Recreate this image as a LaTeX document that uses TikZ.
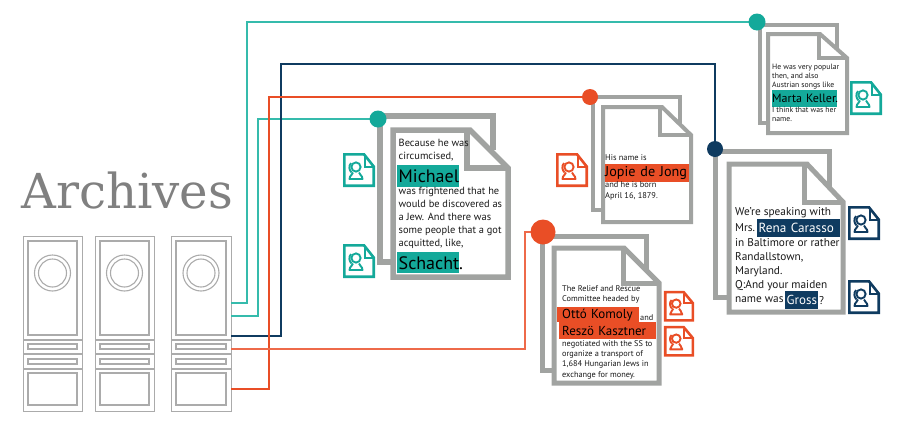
\documentclass[tikz,border=0pt]{standalone}
\usepackage{fontspec}
\setmainfont{PT Sans}
\newfontfamily\slabfont{DejaVu Serif}
\usetikzlibrary{positioning}

\definecolor{tealmain}{HTML}{14A99A}
\definecolor{teallite}{HTML}{35BBAC}
\definecolor{orangemain}{HTML}{E94E26}
\definecolor{orangelite}{HTML}{EE6A4A}
\definecolor{navymain}{HTML}{0F3B60}
\definecolor{sheetgray}{HTML}{A1A3A1}
\definecolor{cabgray}{HTML}{ABABAB}

\newcommand{\txtsize}[2]{\fontsize{#1}{#2}\selectfont}

\tikzset{
  pics/srcdoc/.style={code={
    \draw[line width=2.6pt, draw=#1, fill=white, line join=miter]
      (1.3,1.3) -- (21,1.3) -- (30.7,13.5) -- (30.7,32.7) -- (1.3,32.7) -- cycle;
    \draw[line width=2pt, draw=#1, line join=miter] (21.5,3) -- (21.5,13.5) -- (29.5,13.5);
    % person glyph
    \draw[line width=1.9pt, draw=#1] (13,14) circle (4.6);
    \draw[line width=1.9pt, draw=#1] (8,10) .. controls (5.5,13) and (6,17) .. (8.5,19.5);
    \draw[line width=1.9pt, draw=#1, line join=round]
      (10,19.5) .. controls (10,22) and (6.5,22) .. (6.5,26)
      -- (19.5,26) .. controls (19.5,22) and (16,22) .. (16,19.5);
  }}
}

\begin{document}
\begin{tikzpicture}[
  x=1pt, y=-1pt,
  cabline/.style={draw=cabgray, line width=1.1pt},
  link/.style={line width=1.4pt},
  sheet/.style={draw=sheetgray, line width=#1, line join=miter},
  hub/.style={circle, inner sep=0pt, minimum size=#1},
  bodytext/.style={inner sep=0pt, anchor=north west, align=left, text=black!90},
  namebox/.style={inner xsep=1.5pt, inner ysep=0pt, anchor=north west, align=left},
]
\useasboundingbox (0,0) rectangle (900,429);

\node[inner sep=0pt, anchor=base west, text=black!50] (title) at (21,208)
  {\slabfont\txtsize{48.2}{50}Archives};

% cabinets
\foreach \i/\cx/\cw in {1/23/59, 2/95/59, 3/171/60} {
  \node[cabline, rectangle, inner sep=0pt, anchor=north west,
        minimum width=\cw, minimum height=175] (cab\i) at (\cx,236) {};
  \draw[cabline] (\cx+5,241) rectangle (\cx+\cw-5,335);
  \draw[cabline] (\cx,340) -- ++(\cw,0) (\cx,354) -- ++(\cw,0) (\cx,369) -- ++(\cw,0);
  \draw[cabline] (\cx+5,344) rectangle (\cx+\cw-5,349);
  \draw[cabline] (\cx+5,359) rectangle (\cx+\cw-5,364);
  \draw[cabline] (\cx+5,373) rectangle (\cx+\cw-5,405);
  \draw[cabline] (\cx+\cw/2,273) circle (18) circle (14);
}

% hubs, drawn again at the end on top of the sheets
\coordinate (hubE) at (757,22);
\coordinate (hubA) at (378,119);
\coordinate (hubD) at (715,149);
\coordinate (hubC) at (543,232);
\coordinate (hubB) at (590,97);

\coordinate (portE) at (231,303);
\coordinate (portA) at (231,316);
\coordinate (portD) at (231,336);
\coordinate (portC) at (231,349);
\coordinate (portB) at (231,389);
\coordinate (laneE) at (247,22);
\coordinate (laneA) at (258,119);
\coordinate (laneD) at (281,64);
\coordinate (laneC) at (525,232);
\coordinate (laneB) at (269,97);

\draw[link, teallite] (portE) -| (laneE) -- (hubE);
\draw[link, teallite] (portA) -| (laneA) -- (hubA);
\draw[link, navymain] (portD) -| (laneD) -| (hubD);
\draw[link, orangemain] (portB) -| (laneB) -- (hubB);
\draw[link, orangelite] (portC) -| (laneC) -- (hubC);

% Michael / Schacht
\draw[sheet=5.5pt] (380,119) -- (380,262) -- (395,262);
\draw[sheet=5.5pt] (378,116) -- (493,116) -- (493,150);
\draw[sheet=5.5pt, fill=white] (393,130) -- (470,130) -- (508,168) -- (508,277) -- (393,277) -- cycle;
\draw[sheet=5.5pt] (467,130) |- (508,168);
\node[bodytext, font=\txtsize{10.4}{13}] (a1) at (398.5,138.5) {Because he was\\circumcised,};
\node[namebox, fill=tealmain, text width=59, minimum height=22, font=\txtsize{18}{20}] (a2) at (397,165) {Michael};
\node[bodytext, font=\txtsize{10.4}{13}] (a3) at (398.5,186.5)
  {was frightened that he\\would be discovered as\\a Jew. And there was\\some people that a got\\acquitted, like,};
\node[namebox, fill=tealmain, text width=59, minimum height=21, font=\txtsize{18}{20}] (a4) at (397,252) {Schacht\rlap{.}};

% Jopie de Jong
\draw[sheet=4pt] (593,97) -- (593,210) -- (605,210);
\draw[sheet=4pt] (590,97) -- (680,97) -- (680,125);
\draw[sheet=4pt, fill=white] (603,107) -- (662,107) -- (691,135) -- (691,222) -- (603,222) -- cycle;
\draw[sheet=4pt] (660,107) |- (691,135);
\node[bodytext, font=\txtsize{8.4}{11}] (b1) at (605,154) {His name is};
\node[namebox, fill=orangemain, inner xsep=0pt, text width=84, minimum height=18, font=\txtsize{14.2}{16}] (b2) at (605,164) {Jopie de Jong};
\node[bodytext, font=\txtsize{8.4}{11}] (b3) at (605,181) {and he is born\\April 16, 1879.};

% Komoly / Kasztner
\draw[sheet=5pt] (542,232) -- (542,370) -- (556,370);
\draw[sheet=5pt] (543,236) -- (646,236) -- (646,270);
\draw[sheet=5pt, fill=white] (554,248) -- (624,248) -- (659,283) -- (659,383) -- (554,383) -- cycle;
\draw[sheet=5pt] (623,248) |- (659,283);
\node[bodytext, font=\txtsize{8.3}{10.4}] (c1) at (562,285) {The Relief and Rescue\\Committee headed by};
\node[namebox, fill=orangemain, inner xsep=5pt, text width=72, minimum height=15, font=\txtsize{13}{15}] (c2) at (557,307) {Ottó Komoly};
\node[bodytext, font=\txtsize{8.3}{10.4}, anchor=south west] (c3) at (640,321) {and};
\node[namebox, fill=orangemain, inner xsep=3pt, text width=91, minimum height=17, font=\txtsize{13}{15}] (c4) at (559,322) {Reszö Kasztner};
\node[bodytext, font=\txtsize{8.3}{10.3}] (c5) at (562,340)
  {negotiated with the SS to\\organize a transport of\\1,684 Hungarian Jews in\\exchange for money.};

% Rena Carasso / Gross
\draw[sheet=5pt] (715,149) -- (715,297) -- (731,297);
\draw[sheet=5pt] (715,151) -- (829,151) -- (829,190);
\draw[sheet=5pt, fill=white] (729,164) -- (807,164) -- (843,202) -- (843,312) -- (729,312) -- cycle;
\draw[sheet=5pt] (804,164) |- (843,202);
\node[bodytext, font=\txtsize{11.3}{16}] (d1) at (735,207.5) {We're speaking with\\Mrs.};
\node[namebox, fill=navymain, text=white, text width=80, minimum height=18, font=\txtsize{13.2}{15}] (d2) at (757,219) {Rena Carasso};
\node[bodytext, font=\txtsize{11.3}{14}] (d3) at (735,238.5)
  {in Baltimore or rather\\Randallstown,\\Maryland.\\Q:And your maiden};
\node[bodytext, font=\txtsize{11.3}{14}] (d4) at (735,296.5) {name was};
\node[namebox, fill=navymain, text=white, text width=30, minimum height=18, font=\txtsize{13}{15}] (d5) at (785,291) {Gross};
\node[bodytext, font=\txtsize{11.3}{14}, right=0.5pt of d5, anchor=west] (d6) {?};

% Marta Keller
\draw[sheet=4pt] (760,25) -- (760,123) -- (770,123);
\draw[sheet=4pt] (757,25) -- (837,25) -- (837,50);
\draw[sheet=4pt, fill=white] (768,34) -- (820,34) -- (847,58) -- (847,133) -- (768,133) -- cycle;
\draw[sheet=4pt] (819,34) |- (847,58);
\node[bodytext, font=\txtsize{7.7}{9}] (e1) at (772,63.5) {He was very popular\\then, and also\\Austrian songs like};
\node[namebox, fill=tealmain, inner xsep=0pt, text width=65, minimum height=17, font=\txtsize{12}{15}] (e2) at (772,90) {\mbox{Marta Keller.}};
\node[bodytext, font=\txtsize{7.7}{9}] (e3) at (772,107) {I think that was her\\name.};

% hubs
\node[hub=17pt, fill=tealmain] at (hubE) {};
\node[hub=17pt, fill=tealmain] at (hubA) {};
\node[hub=16pt, fill=navymain] at (hubD) {};
\node[hub=25pt, fill=orangemain] at (hubC) {};
\node[hub=16pt, fill=orangemain] at (hubB) {};

% source icons
\foreach \ix/\iy in {343/153, 343/244}
  \pic at (\ix,\iy) {srcdoc=tealmain};
\pic at (850,81) {srcdoc=tealmain};
\pic at (556,153) {srcdoc=orangemain};
\foreach \iy in {291,326}
  \pic[xscale=.94, yscale=.9] at (664,\iy) {srcdoc=orangemain};
\foreach \iy in {206,280}
  \pic at (848,\iy) {srcdoc=navymain};
\end{tikzpicture}
\end{document}
